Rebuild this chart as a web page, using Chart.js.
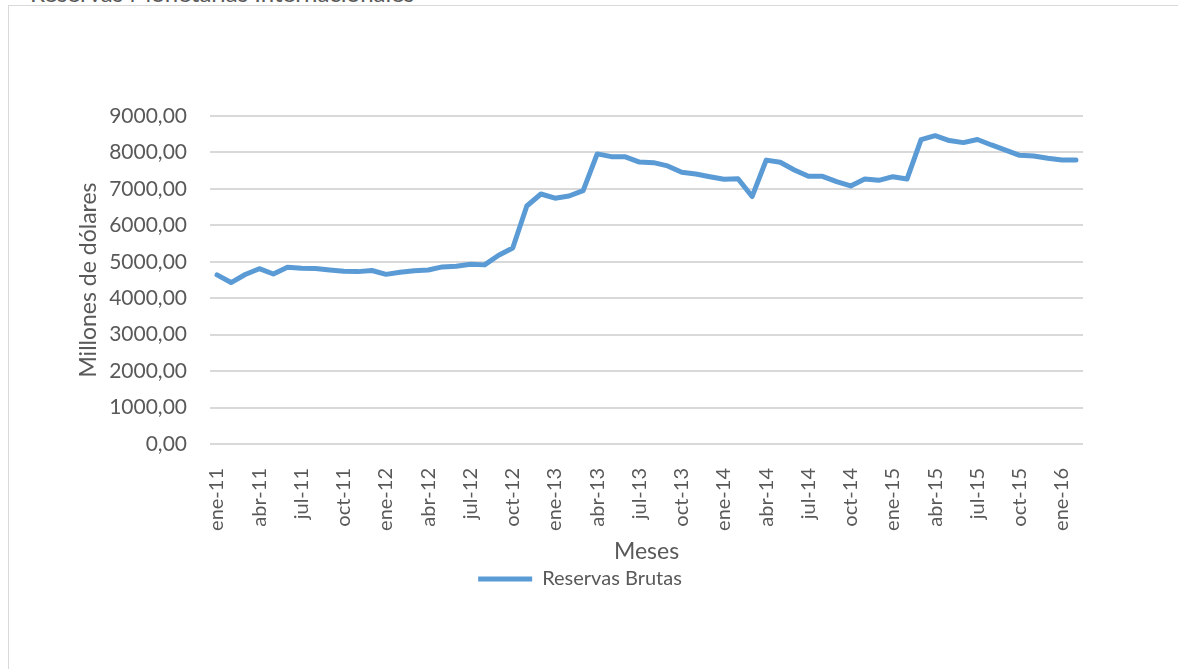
<!DOCTYPE html>
<html lang="es">
<head>
<meta charset="utf-8">
<title>Reservas Brutas</title>
<script src="https://cdn.jsdelivr.net/npm/chart.js@4.4.1/dist/chart.umd.min.js"></script>
<style>
    html, body { margin: 0; padding: 0; background: #fff; overflow: hidden; }
    #wrap { position: relative; width: 1178px; height: 669px; }
    #frame {
        position: absolute; left: 8px; top: 5px; width: 1300px; height: 800px;
        border: 1.5px solid #d9d9d9; box-sizing: border-box;
    }
    #cut-title {
        position: absolute; left: 30px; top: -22px;
        font: 24px Lato, sans-serif; color: #595959; white-space: nowrap;
    }
    canvas { position: absolute; left: 0; top: 0; }
</style>
</head>
<body>
<div id="wrap">
    <div id="frame"></div>
    <div id="cut-title">Reservas Monetarias Internacionales</div>
    <canvas id="reservasChart" width="1178" height="669"></canvas>
</div>
<script>
// Meses (ene-11 .. feb-16)
const meses = [
    'ene-11', 'feb-11', 'mar-11', 'abr-11', 'may-11', 'jun-11', 'jul-11', 'ago-11', 'sep-11', 'oct-11', 'nov-11', 'dic-11',
    'ene-12', 'feb-12', 'mar-12', 'abr-12', 'may-12', 'jun-12', 'jul-12', 'ago-12', 'sep-12', 'oct-12', 'nov-12', 'dic-12',
    'ene-13', 'feb-13', 'mar-13', 'abr-13', 'may-13', 'jun-13', 'jul-13', 'ago-13', 'sep-13', 'oct-13', 'nov-13', 'dic-13',
    'ene-14', 'feb-14', 'mar-14', 'abr-14', 'may-14', 'jun-14', 'jul-14', 'ago-14', 'sep-14', 'oct-14', 'nov-14', 'dic-14',
    'ene-15', 'feb-15', 'mar-15', 'abr-15', 'may-15', 'jun-15', 'jul-15', 'ago-15', 'sep-15', 'oct-15', 'nov-15', 'dic-15',
    'ene-16', 'feb-16'
];

// Reservas brutas, millones de dólares
const reservasBrutas = [
    4640, 4430, 4650, 4810, 4665, 4850, 4820, 4815, 4775, 4740, 4730, 4760,
    4655, 4710, 4755, 4775, 4860, 4880, 4930, 4915, 5180, 5380, 6530, 6860,
    6745, 6805, 6950, 7960, 7885, 7880, 7735, 7720, 7630, 7455, 7410, 7335,
    7265, 7280, 6790, 7790, 7730, 7520, 7345, 7345, 7200, 7080, 7270, 7235,
    7335, 7270, 8350, 8460, 8325, 8270, 8355, 8205, 8065, 7920, 7900, 7840,
    7790, 7790
];

const yMax = 9000;
const yStep = 1000;

const textGray = '#595959';
const gridGray = '#d9d9d9';

document.addEventListener('DOMContentLoaded', () => {
    const el = document.getElementById('reservasChart');
    new Chart(el.getContext('2d'), {
        type: 'line',
        data: {
            labels: meses,
            datasets: [{
                label: 'Reservas Brutas',
                data: reservasBrutas,
                borderColor: '#5b9bd5',
                backgroundColor: '#5b9bd5',
                borderWidth: 5,
                borderCapStyle: 'round',
                borderJoinStyle: 'round',
                pointRadius: 0,
                tension: 0,
                fill: false
            }]
        },
        options: {
            responsive: false,
            devicePixelRatio: 1,
            animation: false,
            layout: { padding: { left: 77, right: 95, top: 116, bottom: 70 } },
            plugins: {
                tooltip: { enabled: false },
                legend: {
                    position: 'bottom',
                    labels: {
                        usePointStyle: true,
                        pointStyle: 'line',
                        pointStyleWidth: 54,
                        padding: 2,
                        color: textGray,
                        font: { family: 'Lato', size: 20 }
                    }
                }
            },
            scales: {
                x: {
                    offset: true,
                    grid: { display: false },
                    border: { display: false },
                    ticks: {
                        autoSkip: false,
                        minRotation: 90,
                        maxRotation: 90,
                        padding: 16,
                        color: textGray,
                        font: { family: 'Lato', size: 20 },
                        callback: (v, i) => (i % 3 === 0 ? meses[i] : '')
                    },
                    title: {
                        display: true,
                        text: 'Meses',
                        color: textGray,
                        font: { family: 'Lato', size: 23, lineHeight: 1.2 },
                        padding: { top: 0, bottom: 2 }
                    },
                    afterFit: (scale) => { scale.height = 123; }
                },
                y: {
                    min: 0,
                    max: yMax,
                    grid: { color: gridGray, lineWidth: 2, drawTicks: false },
                    border: { display: false },
                    ticks: {
                        stepSize: yStep,
                        padding: 23,
                        color: textGray,
                        font: { family: 'Lato', size: 21 },
                        callback: (v) => v.toFixed(2).replace('.', ',')
                    },
                    title: {
                        display: true,
                        text: 'Millones de dólares',
                        color: textGray,
                        font: { family: 'Lato', size: 23, lineHeight: 1 },
                        padding: { top: 0, bottom: 0 }
                    },
                    afterFit: (scale) => { scale.width = 133; }
                }
            }
        }
    });
});
</script>
</body>
</html>
